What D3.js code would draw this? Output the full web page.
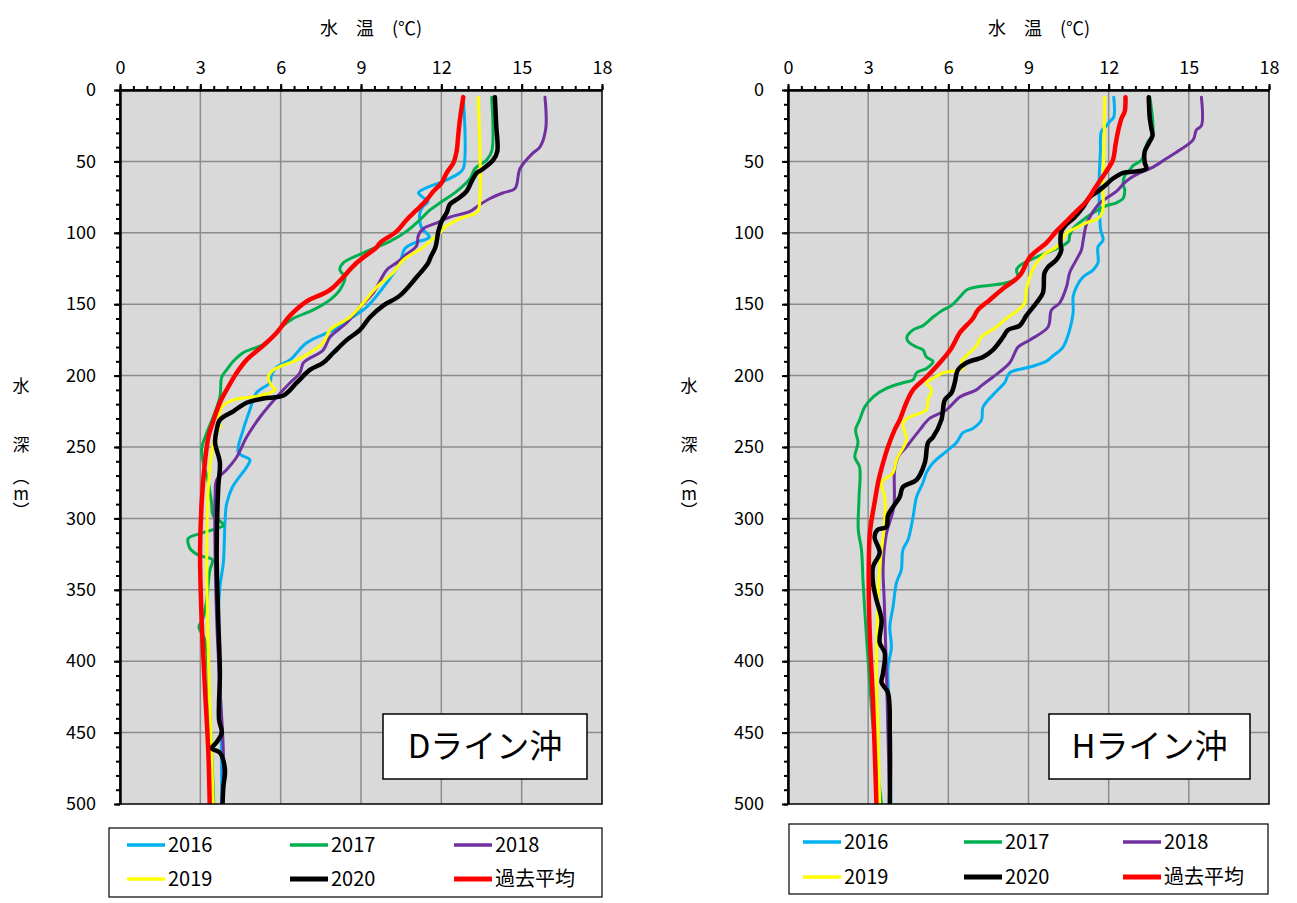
<!DOCTYPE html>
<html>
<head>
<meta charset="utf-8">
<script src="https://cdn.jsdelivr.net/npm/d3@7"></script>
<style>
  body { margin: 0; background: #fff; }
  text { fill: #000; }
</style>
</head>
<body>
<svg id="chart" width="1297" height="903"></svg>
<script>
// ---- data: [depth (m), temperature (°C)] ----
const years = ["2016", "2017", "2018", "2019", "2020", "過去平均"];
const xTicks = [0, 3, 6, 9, 12, 15, 18];
const yTicks = [0, 50, 100, 150, 200, 250, 300, 350, 400, 450, 500];

// D line
const d2016 = [[5,12.82],[55,12.82],[59,12.6],[64,12.07],[68,11.5],[72,11.15],[75,11.3],[78,11.5],[82,11.3],[86,11.2],[96,11.25],[103,11.55],[107,11.0],[111,10.64],[121,10.45],[135,9.96],[152,9.21],[160,8.6],[168,7.97],[177,6.97],[189,6.35],[194,5.85],[200,5.65],[205,5.6],[212,5.1],[224,4.85],[238,4.6],[254,4.42],[259,4.85],[264,4.73],[278,4.2],[290,3.98],[303,3.92],[331,3.86],[348,3.73],[371,3.67],[400,3.72],[450,3.78],[500,3.8]];
const d2017 = [[5,13.88],[43,13.88],[49,13.69],[55,13.26],[62,13.07],[71,12.57],[79,11.95],[84,11.58],[92,11.14],[99,10.7],[106,10.08],[114,9.09],[121,8.34],[126,8.21],[131,8.4],[140,8.21],[147,7.84],[154,7.22],[160,6.47],[167,5.97],[177,5.48],[184,4.6],[190,4.23],[196,3.98],[201,3.8],[215,3.73],[229,3.48],[240,3.24],[251,3.05],[261,3.11],[275,3.3],[289,3.42],[298,3.48],[303,3.8],[305,3.86],[310,3.1],[314,2.55],[318,2.55],[322,2.65],[326,2.95],[329,3.45],[336,3.36],[345,3.3],[357,3.24],[370,3.1],[376,2.95],[384,3.15],[394,3.24],[441,3.36],[488,3.48],[500,3.5]];
const d2018 = [[5,15.87],[27,15.9],[40,15.68],[44,15.43],[55,14.94],[69,14.75],[72,14.31],[76,13.82],[81,13.38],[85,13.07],[89,12.32],[93,11.83],[97,11.33],[102,11.14],[109,11.08],[115,10.7],[121,10.33],[126,9.96],[142,9.46],[152,8.96],[163,8.47],[173,7.84],[182,7.59],[191,6.85],[198,6.72],[205,6.35],[215,5.85],[229,5.23],[243,4.73],[257,4.36],[266,3.98],[273,3.61],[285,3.55],[324,3.55],[371,3.61],[418,3.73],[464,3.86],[500,3.83]];
const d2019 = [[5,13.38],[83,13.4],[86,13.3],[90,12.7],[95,12.2],[100,11.95],[104,11.7],[110,11.33],[119,10.58],[128,10.2],[138,9.59],[149,9.09],[159,8.59],[168,7.84],[177,7.59],[188,6.72],[196,5.73],[201,5.54],[207,5.66],[210,5.79],[214,5.23],[217,4.23],[221,3.86],[229,3.67],[236,3.73],[240,3.6],[254,3.42],[278,3.3],[324,3.24],[371,3.27],[418,3.33],[464,3.42],[500,3.48]];
const d2020 = [[5,14.0],[25,14.05],[43,14.09],[49,13.94],[56,13.5],[58,13.32],[64,13.13],[71,12.94],[76,12.63],[80,12.32],[86,12.2],[92,12.01],[99,11.89],[110,11.78],[117,11.6],[121,11.51],[131,11.08],[144,10.45],[151,9.83],[159,9.34],[168,8.96],[175,8.47],[184,7.97],[191,7.59],[196,7.09],[205,6.6],[214,6.1],[216,5.35],[219,4.73],[225,4.23],[231,3.73],[238,3.61],[247,3.55],[261,3.73],[278,3.67],[324,3.61],[371,3.67],[408,3.73],[441,3.7],[450,3.8],[457,3.6],[461,3.42],[464,3.73],[476,3.92],[488,3.86],[500,3.83]];
const dAvg = [[5,12.82],[20,12.7],[32,12.63],[43,12.57],[51,12.45],[58,12.2],[65,12.01],[71,11.7],[77,11.45],[84,11.08],[91,10.7],[99,10.33],[107,9.71],[110,9.59],[121,8.84],[140,7.84],[148,6.97],[158,6.35],[170,5.85],[179,5.35],[189,4.73],[198,4.36],[210,3.98],[219,3.73],[232,3.48],[243,3.3],[261,3.17],[289,3.05],[324,2.99],[371,3.05],[418,3.17],[464,3.3],[500,3.35]];

// H line
const h2016 = [[5,12.19],[19,12.19],[22,12.04],[25,11.92],[29,11.73],[43,11.69],[66,11.64],[90,11.67],[98,11.7],[105,11.79],[110,11.6],[121,11.6],[126,11.42],[131,11.04],[138,10.79],[145,10.67],[156,10.67],[168,10.54],[180,10.29],[187,9.86],[190,9.67],[194,9.05],[198,8.3],[205,8.11],[211,7.8],[222,7.3],[231,7.24],[237,6.92],[240,6.55],[247,6.3],[253,5.93],[261,5.43],[268,5.18],[275,5.05],[285,4.81],[299,4.68],[315,4.49],[322,4.3],[336,4.24],[345,4.06],[362,3.93],[376,3.81],[390,3.87],[405,3.74],[428,3.78],[452,3.81],[500,3.85]];
const h2017 = [[5,13.54],[20,13.64],[32,13.64],[36,13.47],[42,13.35],[49,13.23],[53,12.91],[56,12.79],[60,12.6],[66,12.54],[70,12.6],[76,12.54],[79,12.29],[81,11.92],[86,11.42],[91,11.04],[97,10.67],[102,10.54],[106,10.5],[110,10.17],[117,9.3],[123,8.67],[126,8.55],[131,8.6],[135,8.17],[138,7.05],[140,6.68],[145,6.43],[151,6.11],[154,5.8],[159,5.43],[165,5.05],[168,4.68],[173,4.45],[176,4.49],[180,4.81],[182,5.05],[187,5.18],[190,5.43],[195,5.18],[198,4.81],[203,4.68],[205,4.3],[209,3.68],[215,3.18],[222,2.87],[231,2.68],[238,2.53],[247,2.62],[257,2.5],[264,2.68],[285,2.66],[308,2.63],[322,2.75],[345,2.81],[381,2.93],[400,3.0],[450,3.2],[500,3.5]];
const h2018 = [[5,15.47],[25,15.47],[28,15.28],[35,15.16],[42,14.66],[48,14.16],[54,13.66],[58,13.16],[62,12.79],[66,12.54],[71,12.29],[75,11.98],[79,11.67],[85,11.42],[94,11.17],[106,11.04],[112,10.98],[119,10.79],[128,10.54],[138,10.42],[149,10.17],[154,9.86],[166,9.73],[175,9.05],[180,8.61],[191,8.3],[201,7.67],[207,7.24],[210,7.05],[215,6.43],[224,5.93],[230,5.3],[238,4.93],[250,4.43],[257,4.12],[266,3.99],[292,3.96],[311,3.68],[334,3.56],[357,3.6],[405,3.68],[451,3.74],[500,3.81]];
const h2019 = [[5,11.85],[32,11.83],[66,11.79],[85,11.77],[90,11.6],[93,11.17],[97,10.73],[100,10.42],[104,10.29],[110,10.04],[114,9.67],[121,9.3],[131,9.05],[140,8.92],[149,8.86],[155,8.55],[160,8.17],[166,7.8],[173,7.24],[179,7.05],[184,6.8],[190,6.49],[195,6.55],[198,5.8],[202,5.43],[205,5.18],[210,5.37],[217,5.24],[224,5.18],[229,4.55],[233,4.3],[245,4.43],[259,4.06],[268,3.93],[275,3.5],[285,3.62],[301,3.62],[334,3.43],[357,3.37],[405,3.31],[451,3.37],[500,3.43]];
const h2020 = [[5,13.5],[20,13.54],[27,13.6],[32,13.64],[37,13.51],[43,13.35],[51,13.35],[55,13.41],[57,13.04],[58,12.54],[62,12.16],[66,11.92],[71,11.6],[75,11.29],[82,11.04],[89,10.73],[94,10.42],[99,10.23],[108,10.2],[112,10.23],[119,10.04],[124,9.73],[128,9.6],[142,9.54],[149,9.3],[158,8.92],[165,8.67],[168,8.23],[173,8.05],[182,7.67],[187,7.3],[191,6.68],[196,6.36],[205,6.24],[212,6.12],[217,5.87],[231,5.74],[243,5.43],[247,5.24],[261,5.12],[273,4.81],[278,4.3],[285,4.18],[292,3.93],[298,3.74],[306,3.68],[308,3.35],[313,3.24],[324,3.43],[334,3.18],[345,3.18],[357,3.31],[371,3.5],[387,3.43],[394,3.62],[408,3.56],[415,3.5],[422,3.74],[451,3.81],[500,3.81]];
const hAvg = [[5,12.63],[15,12.6],[20,12.48],[29,12.35],[38,12.26],[49,12.16],[55,11.98],[62,11.73],[69,11.48],[78,11.17],[85,10.79],[92,10.42],[99,10.04],[107,9.67],[117,9.05],[130,8.67],[139,8.05],[147,7.55],[154,7.11],[160,6.92],[170,6.43],[181,6.11],[191,5.68],[201,5.18],[210,4.68],[219,4.43],[231,4.18],[238,3.99],[250,3.74],[261,3.56],[275,3.37],[289,3.24],[302,3.12],[311,3.06],[345,3.02],[381,3.06],[428,3.18],[500,3.31]];

const colors = ["#00b0f0", "#00b050", "#7030a0", "#ffff00", "#000000", "#ff0000"];
const widths = [3, 3, 3, 3, 4.5, 4.5];

const svg = d3.select("#chart");
const jp = "'Noto Sans CJK JP', 'Noto Sans', sans-serif";

function drawPanel(cfg) {
    let {left, top, width, height, series, label, legend, clipId} = cfg;
    let g = svg.append("g").attr("transform", "translate(" + left + "," + top + ")");

    let x = d3.scaleLinear().domain([0, 18]).range([0, width]);
    let y = d3.scaleLinear().domain([0, 500]).range([0, height]);

    // plot background
    g.append("rect")
        .attr("width", width).attr("height", height)
        .attr("fill", "#d9d9d9");

    // grid
    g.append("g").selectAll("line")
        .data(xTicks.slice(1, -1))
        .join("line")
        .attr("x1", d => x(d)).attr("x2", d => x(d))
        .attr("y1", 0).attr("y2", height)
        .attr("stroke", "#8c8c8c").attr("stroke-width", 1.5);
    g.append("g").selectAll("line")
        .data(yTicks.slice(1, -1))
        .join("line")
        .attr("y1", d => y(d)).attr("y2", d => y(d))
        .attr("x1", 0).attr("x2", width)
        .attr("stroke", "#8c8c8c").attr("stroke-width", 1.5);

    // clip so the lines stay in the plot
    g.append("defs").append("clipPath").attr("id", clipId)
        .append("rect").attr("width", width).attr("height", height);

    let line = d3.line()
        .x(d => x(d[1]))
        .y(d => y(d[0]))
        .curve(d3.curveCatmullRom.alpha(0.5));

    let lines = g.append("g").attr("clip-path", "url(#" + clipId + ")");
    series.forEach(function (s, i) {
        lines.append("path")
            .datum(s)
            .attr("fill", "none")
            .attr("stroke", colors[i])
            .attr("stroke-width", widths[i])
            .attr("stroke-linejoin", "round")
            .attr("stroke-linecap", "round")
            .attr("d", line);
    });

    // border
    g.append("rect")
        .attr("width", width).attr("height", height)
        .attr("fill", "none").attr("stroke", "#000").attr("stroke-width", 1.5);

    // top axis: minor then major
    g.append("g")
        .call(d3.axisTop(x).tickValues(d3.range(0, 18.01, 0.5)).tickSize(4).tickFormat(""))
        .call(a => a.select(".domain").remove())
        .selectAll("line").attr("stroke-width", 2);
    let xa = g.append("g")
        .call(d3.axisTop(x).tickValues(xTicks).tickSize(6).tickPadding(10).tickSizeOuter(0));
    xa.select(".domain").attr("stroke-width", 2.5);
    xa.selectAll("line").attr("stroke-width", 2);
    xa.selectAll("text").attr("font-family", jp).attr("font-size", 18);

    // left axis: minor then major
    g.append("g")
        .call(d3.axisLeft(y).tickValues(d3.range(0, 501, 10)).tickSize(4).tickFormat(""))
        .call(a => a.select(".domain").remove())
        .selectAll("line").attr("stroke-width", 2);
    let ya = g.append("g")
        .call(d3.axisLeft(y).tickValues(yTicks).tickSize(6).tickPadding(18).tickSizeOuter(0));
    ya.select(".domain").attr("stroke-width", 2.5);
    ya.selectAll("line").attr("stroke-width", 2);
    ya.selectAll("text").attr("font-family", jp).attr("font-size", 18);

    // axis titles
    svg.append("text")
        .attr("x", left + 200).attr("y", 35)
        .attr("font-family", jp).attr("font-size", 18)
        .text("水　温　(℃)");
    let yl = svg.append("g").attr("font-family", jp).attr("font-size", 17)
        .attr("text-anchor", "middle");
    yl.append("text").attr("x", left - 99).attr("y", 392).text("水");
    yl.append("text").attr("x", left - 99).attr("y", 451).text("深");
    // unit written vertically in one text
    yl.append("text")
        .attr("x", left - 99).attr("y", 494)
        .attr("writing-mode", "vertical-rl")
        .style("text-orientation", "upright")
        .text("（m）");

    // station label
    g.append("rect")
        .attr("x", label.x).attr("y", label.y)
        .attr("width", label.w).attr("height", label.h)
        .attr("fill", "#fff").attr("stroke", "#000").attr("stroke-width", 1.5);
    g.append("text")
        .attr("x", label.x + label.w / 2).attr("y", label.y + label.h / 2)
        .attr("dy", "0.36em")
        .attr("text-anchor", "middle")
        .attr("font-family", jp).attr("font-size", 33)
        .text(label.text);

    // legend
    let lg = svg.append("g").attr("transform", "translate(" + legend.x + "," + legend.y + ")");
    lg.append("rect")
        .attr("width", legend.w).attr("height", legend.h)
        .attr("fill", "#fff").attr("stroke", "#000").attr("stroke-width", 1.2);
    years.forEach(function (name, i) {
        let cx = legend.cols[i % 3];
        let cy = legend.rows[Math.floor(i / 3)];
        lg.append("line")
            .attr("x1", cx).attr("x2", cx + 38)
            .attr("y1", cy).attr("y2", cy)
            .attr("stroke", colors[i])
            .attr("stroke-width", widths[i] + 0.5);
        lg.append("text")
            .attr("x", cx + 41).attr("y", cy).attr("dy", "0.35em")
            .attr("font-family", jp).attr("font-size", 20)
            .text(name);
    });
}

drawPanel({
    left: 120, top: 90, width: 482, height: 714, clipId: "clipD",
    series: [d2016, d2017, d2018, d2019, d2020, dAvg],
    label: {x: 263, y: 624, w: 204, h: 65, text: "Dライン沖"},
    legend: {x: 109, y: 828, w: 493, h: 69, cols: [18, 181, 345], rows: [17, 51]}
});

drawPanel({
    left: 788, top: 90, width: 481, height: 714, clipId: "clipH",
    series: [h2016, h2017, h2018, h2019, h2020, hAvg],
    label: {x: 261, y: 624, w: 201, h: 65, text: "Hライン沖"},
    legend: {x: 789, y: 824, w: 479, h: 70, cols: [14, 175, 334], rows: [18, 53]}
});
</script>
</body>
</html>
